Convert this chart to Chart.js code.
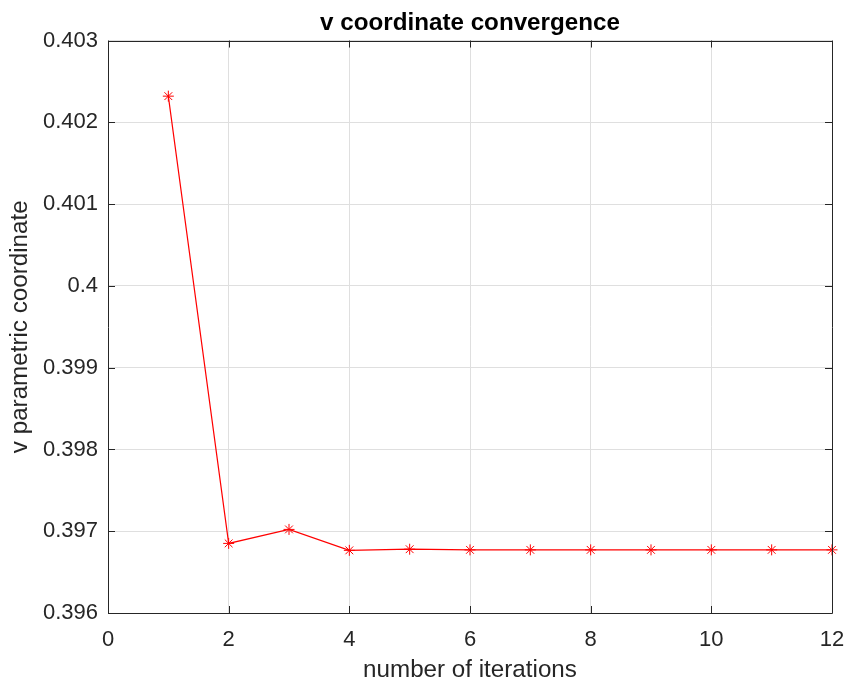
<!DOCTYPE html>
<html>
<head>
<meta charset="utf-8">
<script src="https://cdn.jsdelivr.net/npm/chart.js@4/dist/chart.umd.min.js"></script>
<style>
  html, body { margin: 0; padding: 0; background: #ffffff; }
  #wrap { width: 847px; height: 686px; position: relative; }
</style>
</head>
<body>
<div id="wrap"><canvas id="c" width="847" height="686"></canvas></div>
<script>
// ---- data ----
const iterations = [1, 2, 3, 4, 5, 6, 7, 8, 9, 10, 11, 12];
const vValues = [0.402320, 0.396851, 0.397022, 0.396766, 0.396780, 0.396772,
                 0.396772, 0.396772, 0.396772, 0.396772, 0.396772, 0.396772];
const xTickValues = [0, 2, 4, 6, 8, 10, 12];
const xTickLabels = ['0', '2', '4', '6', '8', '10', '12'];
const yTickValues = [0.396, 0.397, 0.398, 0.399, 0.400, 0.401, 0.402, 0.403];
const yTickLabels = ['0.396', '0.397', '0.398', '0.399', '0.4', '0.401', '0.402', '0.403'];
const titleText = 'v coordinate convergence';
const xTitle = 'number of iterations';
const yTitle = 'v parametric coordinate';

const FONT = "'Liberation Sans', Arial, Helvetica, sans-serif";
const AXIS = '#262626';
const GRID = '#dfdfdf';

const boxPlugin = {
  id: 'matlabBox',
  afterDraw(chart) {
    const {ctx, chartArea: a, scales: {x, y}} = chart;
    ctx.save();
    ctx.strokeStyle = AXIS;
    ctx.lineWidth = 1;
    ctx.beginPath();
    ctx.rect(Math.round(a.left) + 0.5, Math.round(a.top) + 0.5,
             Math.round(a.right - a.left), Math.round(a.bottom - a.top));
    ctx.stroke();
    const tl = 7;
    ctx.beginPath();
    x.ticks.forEach(t => {
      const px = Math.round(x.getPixelForValue(t.value)) + 0.5;
      ctx.moveTo(px, a.bottom); ctx.lineTo(px, a.bottom - tl);
      ctx.moveTo(px, a.top); ctx.lineTo(px, a.top + tl);
    });
    y.ticks.forEach(t => {
      const py = Math.round(y.getPixelForValue(t.value)) + 0.5;
      ctx.moveTo(a.left, py); ctx.lineTo(a.left + tl, py);
      ctx.moveTo(a.right, py); ctx.lineTo(a.right - tl, py);
    });
    ctx.stroke();
    ctx.restore();
  }
};

const bgPlugin = {
  id: 'bg',
  beforeDraw(chart) {
    const ctx = chart.ctx;
    ctx.save();
    ctx.fillStyle = '#ffffff';
    ctx.fillRect(0, 0, chart.width, chart.height);
    ctx.restore();
  }
};

new Chart(document.getElementById('c'), {
  type: 'line',
  data: {
    datasets: [{
      data: iterations.map((it, i) => ({x: it, y: vValues[i]})),
      borderColor: '#ff0000',
      backgroundColor: '#ff0000',
      borderWidth: 1.2,
      tension: 0,
      fill: false,
      pointStyle: 'star',
      pointRadius: 5.5,
      pointBorderWidth: 1,
      pointBorderColor: '#ff0000',
      pointHoverRadius: 5.5,
      clip: false
    }]
  },
  plugins: [bgPlugin, boxPlugin],
  options: {
    responsive: false,
    animation: false,
    devicePixelRatio: 1,
    layout: { padding: { left: 0, right: 15, top: 0, bottom: 0 } },
    plugins: {
      legend: { display: false },
      tooltip: { enabled: false },
      title: {
        display: true,
        fullSize: false,
        text: titleText,
        color: '#000000',
        font: { family: FONT, size: 24.2, weight: 'bold', lineHeight: 1.2 },
        padding: { top: 9, bottom: 2.5 }
      }
    },
    scales: {
      x: {
        type: 'linear',
        min: 0, max: 12,
        afterBuildTicks: s => { s.ticks = xTickValues.map(v => ({value: v})); },
        afterFit: s => { s.height = 73; s.paddingLeft = 0; s.paddingRight = 0; },
        ticks: {
          color: AXIS,
          padding: 14,
          maxRotation: 0,
          font: { family: FONT, size: 22, lineHeight: 1.2 },
          callback: (v, i) => xTickLabels[i]
        },
        grid: { color: GRID, drawTicks: false, lineWidth: 1 },
        border: { display: false },
        title: {
          display: true,
          text: xTitle,
          color: AXIS,
          font: { family: FONT, size: 24.2, lineHeight: 1.2 },
          padding: { top: 3, bottom: 1 }
        }
      },
      y: {
        type: 'linear',
        min: 0.396, max: 0.403,
        afterBuildTicks: s => { s.ticks = yTickValues.map(v => ({value: v})); },
        afterFit: s => { s.width = 108; },
        ticks: {
          color: AXIS,
          padding: 10,
          font: { family: FONT, size: 22, lineHeight: 1.2 },
          callback: (v, i) => yTickLabels[i]
        },
        grid: { color: GRID, drawTicks: false, lineWidth: 1 },
        border: { display: false },
        title: {
          display: true,
          text: yTitle,
          color: AXIS,
          font: { family: FONT, size: 24.2, lineHeight: 1.2 },
          padding: { top: 5.5, bottom: 0 }
        }
      }
    }
  }
});
</script>
</body>
</html>
